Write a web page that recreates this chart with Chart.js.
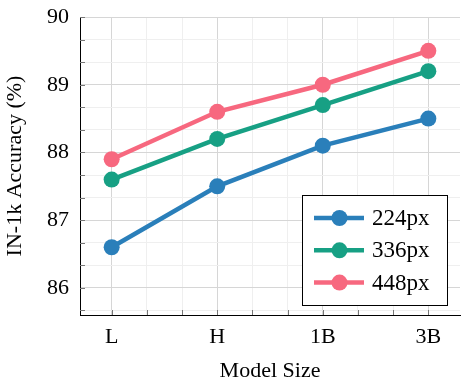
<!DOCTYPE html>
<html>
<head>
<meta charset="utf-8">
<script src="https://cdn.jsdelivr.net/npm/chart.js@4"></script>
<style>
html,body{margin:0;padding:0;background:#fff;}
#wrap{width:462px;height:381px;}
</style>
</head>
<body>
<div id="wrap"><canvas id="c" width="462" height="381"></canvas></div>
<script>
const categories = ['L', 'H', '1B', '3B'];
const seriesLabels = ['224px', '336px', '448px'];
const acc224 = [86.6, 87.5, 88.1, 88.5];
const acc336 = [87.6, 88.2, 88.7, 89.2];
const acc448 = [87.9, 88.6, 89.0, 89.5];
const yTickValues = [86, 87, 88, 89, 90];
const colors = ['#2a7fba', '#17a084', '#f7687f'];

const FONT = "'Liberation Serif', 'DejaVu Serif', serif";
const isInt = v => Math.abs(v - Math.round(v)) < 1e-6;

function mk(label, vals, color) {
  return {
    label: label,
    data: categories.map((c, i) => ({x: i, y: vals[i]})),
    borderColor: color,
    backgroundColor: color,
    borderWidth: 4.5,
    pointRadius: 8,
    pointHoverRadius: 8,
    pointBorderWidth: 0,
    tension: 0
  };
}

const tickMarks = {
  id: 'tickMarks',
  afterDatasetsDraw(chart) {
    const ctx = chart.ctx, a = chart.chartArea;
    const xs = chart.scales.x, ys = chart.scales.y;
    ctx.save();
    ctx.strokeStyle = '#777';
    ctx.lineWidth = 1;
    ys.ticks.forEach(t => {
      const y = Math.round(ys.getPixelForValue(t.value)) + 0.5;
      ctx.beginPath(); ctx.moveTo(a.left, y); ctx.lineTo(a.left + 5, y); ctx.stroke();
    });
    xs.ticks.forEach(t => {
      const x = Math.round(xs.getPixelForValue(t.value)) + 0.5;
      ctx.beginPath(); ctx.moveTo(x, a.bottom); ctx.lineTo(x, a.bottom - 5); ctx.stroke();
    });
    ctx.restore();
  },
  afterDraw(chart) {
    const ctx = chart.ctx;
    const bx = 302.5, by = 195.5, bw = 145, bh = 110;
    ctx.save();
    ctx.fillStyle = '#fff';
    ctx.fillRect(bx, by, bw, bh);
    ctx.strokeStyle = '#000';
    ctx.lineWidth = 1;
    ctx.strokeRect(bx, by, bw, bh);
    ctx.font = '23px ' + FONT;
    ctx.textBaseline = 'middle';
    ctx.textAlign = 'left';
    chart.data.datasets.forEach((ds, i) => {
      const y = 218 + i * 32.3;
      ctx.strokeStyle = ds.borderColor;
      ctx.lineWidth = 4.5;
      ctx.beginPath(); ctx.moveTo(314, y); ctx.lineTo(364, y); ctx.stroke();
      ctx.fillStyle = ds.borderColor;
      ctx.beginPath(); ctx.arc(339.5, y, 8, 0, Math.PI * 2); ctx.fill();
      ctx.fillStyle = '#000';
      ctx.fillText(ds.label, 372, y + 1);
    });
    ctx.restore();
  }
};

new Chart(document.getElementById('c'), {
  type: 'line',
  data: {
    datasets: [
      mk(seriesLabels[0], acc224, colors[0]),
      mk(seriesLabels[1], acc336, colors[1]),
      mk(seriesLabels[2], acc448, colors[2])
    ]
  },
  plugins: [tickMarks],
  options: {
    responsive: false,
    animation: false,
    layout: {autoPadding: false, padding: {top: 17, right: 2, left: 0, bottom: 0}},
    plugins: {legend: {display: false}, tooltip: {enabled: false}},
    scales: {
      x: {
        type: 'linear',
        min: -0.3,
        max: 3.3,
        afterBuildTicks(s) {
          const t = [];
          for (let k = 0; k <= 9; k++) t.push({value: k / 3});
          s.ticks = t;
        },
        afterFit(s) { s.height = 66; s.paddingLeft = 0; s.paddingRight = 0; },
        ticks: {
          autoSkip: false,
          maxRotation: 0,
          padding: 9,
          color: '#000',
          font: {family: FONT, size: 22},
          callback: v => isInt(v) ? categories[Math.round(v)] : ''
        },
        grid: {
          drawTicks: false,
          color: c => (c.tick && isInt(c.tick.value)) ? '#d6d6d6' : '#efefef',
          lineWidth: 1
        },
        border: {color: '#000', width: 1},
        title: {
          display: true,
          text: 'Model Size',
          color: '#000',
          font: {family: FONT, size: 22},
          padding: {top: 13, bottom: -3}
        }
      },
      y: {
        min: 85.6,
        max: 90,
        afterBuildTicks(s) {
          const t = [];
          for (let k = -1; k <= 12; k++) t.push({value: yTickValues[0] + k / 3});
          s.ticks = t;
        },
        afterFit(s) { s.width = 80; s.paddingTop = 0; s.paddingBottom = 0; },
        ticks: {
          autoSkip: false,
          padding: 11,
          color: '#000',
          font: {family: FONT, size: 22},
          callback: v => isInt(v) ? String(Math.round(v)) : ''
        },
        grid: {
          drawTicks: false,
          color: c => (c.tick && isInt(c.tick.value)) ? '#d6d6d6' : '#efefef',
          lineWidth: 1
        },
        border: {color: '#000', width: 1},
        title: {
          display: true,
          text: 'IN-1k Accuracy (%)',
          color: '#000',
          font: {family: FONT, size: 22},
          padding: {top: 2, bottom: 0}
        }
      }
    }
  }
});
</script>
</body>
</html>
